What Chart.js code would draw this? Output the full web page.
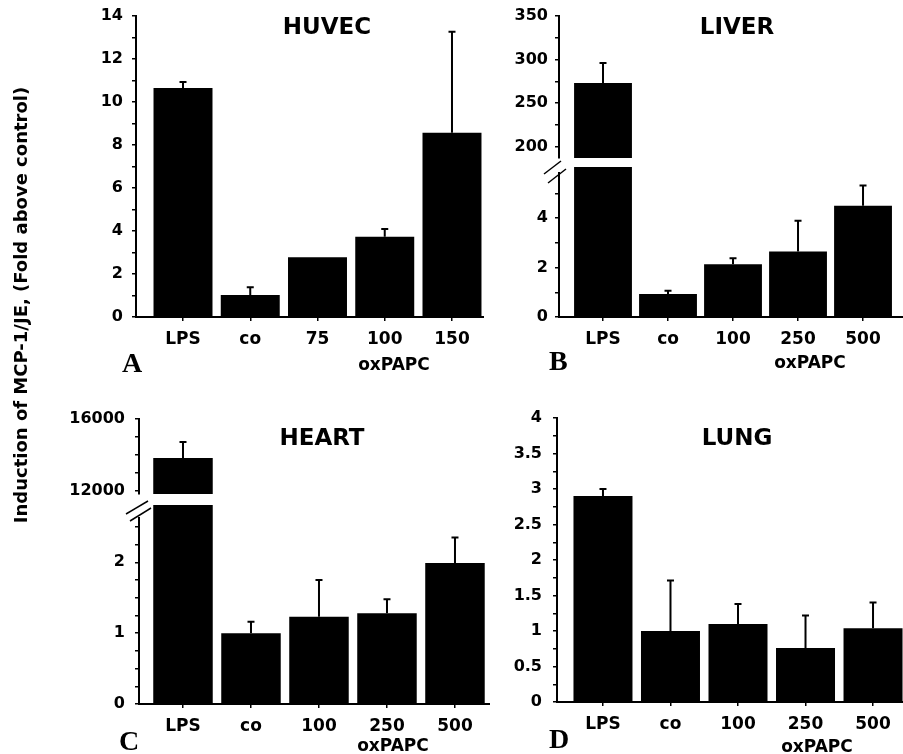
<!DOCTYPE html>
<html>
<head>
<meta charset="utf-8">
<title>Induction of MCP-1/JE</title>
<script src="https://cdn.jsdelivr.net/npm/chart.js@4.4.1/dist/chart.umd.min.js"></script>
<style>
    html, body { margin: 0; padding: 0; background: #fff; }
    #fig { position: relative; width: 903px; height: 754px; overflow: hidden; background: #fff; }
    #fig canvas { position: absolute; }
    #labels { position: absolute; left: 0; top: 0; pointer-events: none; }
    #labels text { font-family: 'DejaVu Sans', Verdana, sans-serif; font-weight: bold; fill: #000; }
    #labels text.panel { font-family: 'Liberation Serif', 'Times New Roman', serif; font-size: 28px; }
    #labels line { stroke: #000; stroke-width: 1.5; }
</style>
</head>
<body>
<div id="fig">
    <svg id="labels" width="903" height="754">
        <text x="327" y="33.5" font-size="23" text-anchor="middle">HUVEC</text>
        <text x="737" y="33.5" font-size="23" text-anchor="middle">LIVER</text>
        <text x="322" y="445" font-size="23" text-anchor="middle">HEART</text>
        <text x="737" y="445" font-size="23" text-anchor="middle">LUNG</text>

        <text class="panel" x="122" y="372">A</text>
        <text class="panel" x="549" y="370">B</text>
        <text class="panel" x="119" y="750">C</text>
        <text class="panel" x="549" y="748">D</text>

        <text x="394" y="370" font-size="17" text-anchor="middle">oxPAPC</text>
        <text x="810" y="368" font-size="17" text-anchor="middle">oxPAPC</text>
        <text x="393" y="750.5" font-size="17" text-anchor="middle">oxPAPC</text>
        <text x="817" y="751.5" font-size="17" text-anchor="middle">oxPAPC</text>

        <text transform="translate(26.5,305) rotate(-90)" font-size="18" text-anchor="middle">Induction of MCP-1/JE, (Fold above control)</text>

        <!-- axis breaks -->
        <line x1="544" y1="174" x2="561" y2="161"></line>
        <line x1="548" y1="183" x2="566" y2="169"></line>
        <line x1="126" y1="514" x2="148" y2="501"></line>
        <line x1="130" y1="521" x2="151" y2="508"></line>
    </svg>
</div>
<script>
// categories
var huvecCats = ['LPS', 'co', '75', '100', '150'];
var organCats = ['LPS', 'co', '100', '250', '500'];

// means and upper error (SD)
var huvecMean = [10.65, 1.02, 2.78, 3.73, 8.57];
var huvecSd = [0.28, 0.36, 0, 0.36, 4.7];
var liverMean = [273, 0.93, 2.14, 2.65, 4.5];
var liverSd = [23, 0.13, 0.24, 1.25, 0.82];
var heartMean = [13830, 1.0, 1.23, 1.28, 1.99];
var heartSd = [880, 0.16, 0.52, 0.2, 0.36];
var lungMean = [2.9, 1.0, 1.1, 0.76, 1.04];
var lungSd = [0.1, 0.71, 0.28, 0.46, 0.36];

// labelled y ticks
var huvecTicks = [0, 2, 4, 6, 8, 10, 12, 14];
var liverTicksLow = [0, 2, 4];
var liverTicksHigh = [200, 250, 300, 350];
var heartTicksLow = [0, 1, 2];
var heartTicksHigh = [12000, 16000];
var lungTicks = [0, 0.5, 1, 1.5, 2, 2.5, 3, 3.5, 4];

(function () {
    'use strict';

    var fig = document.getElementById('fig');
    var svg = document.getElementById('labels');
    var Y_AXIS_W = 72;
    var X_AXIS_H = 40;

    Chart.defaults.font.family = "'DejaVu Sans', Verdana, sans-serif";
    Chart.defaults.font.weight = 'bold';
    Chart.defaults.color = '#000';

    var errorBarPlugin = {
        id: 'errorBars',
        afterDatasetsDraw: function (chart) {
            var ctx = chart.ctx;
            chart.data.datasets.forEach(function (ds, di) {
                if (!ds.errors) {
                    return;
                }
                var meta = chart.getDatasetMeta(di);
                var yScale = chart.scales[meta.yAxisID];
                meta.data.forEach(function (bar, i) {
                    var v = ds.data[i].y;
                    var e = ds.errors[i];
                    if (v === null || !e) {
                        return;
                    }
                    var y0 = yScale.getPixelForValue(v);
                    var y1 = yScale.getPixelForValue(v + e);
                    ctx.save();
                    ctx.strokeStyle = '#000';
                    ctx.lineWidth = 2;
                    ctx.beginPath();
                    ctx.moveTo(bar.x, y0);
                    ctx.lineTo(bar.x, y1);
                    ctx.moveTo(bar.x - 3.5, y1);
                    ctx.lineTo(bar.x + 3.5, y1);
                    ctx.stroke();
                    ctx.restore();
                });
            });
        }
    };

    function makeChart(p) {
        var canvas = document.createElement('canvas');
        canvas.width = p.w;
        canvas.height = p.h;
        canvas.style.left = p.left + 'px';
        canvas.style.top = p.top + 'px';
        fig.insertBefore(canvas, svg);

        var points = p.values.map(function (v, i) {
            return { x: i, y: v };
        });

        var dataset = {
            data: points,
            errors: p.errors,
            backgroundColor: '#000',
            borderWidth: 0,
            barPercentage: p.barPct,
            categoryPercentage: 1
        };
        if (p.clipTop) {
            dataset.clip = { left: 0, top: p.clipTop, right: 0, bottom: 0 };
        }

        new Chart(canvas, {
            type: 'bar',
            data: { datasets: [dataset] },
            options: {
                responsive: false,
                animation: false,
                events: [],
                layout: {
                    padding: { top: p.padTop, right: 0, bottom: p.padBottom || 0, left: 0 }
                },
                plugins: {
                    legend: { display: false },
                    tooltip: { enabled: false }
                },
                scales: {
                    x: {
                        type: 'linear',
                        min: p.xMin,
                        max: p.xMax,
                        offset: false,
                        display: p.showX,
                        border: { display: true, color: '#000', width: 2 },
                        grid: {
                            display: true,
                            offset: false,
                            drawOnChartArea: false,
                            drawTicks: true,
                            tickLength: 4,
                            color: '#000',
                            lineWidth: 1.5
                        },
                        ticks: {
                            autoSkip: false,
                            maxRotation: 0,
                            padding: 8,
                            font: { size: 17, weight: 'bold' },
                            callback: function (v) {
                                return p.cats[v];
                            }
                        },
                        afterBuildTicks: function (scale) {
                            scale.ticks = p.cats.map(function (c, i) {
                                return { value: i };
                            });
                        },
                        afterFit: function (scale) {
                            scale.height = p.showX ? X_AXIS_H : 0;
                            scale.paddingLeft = 0;
                            scale.paddingRight = 0;
                        }
                    },
                    y: {
                        type: 'linear',
                        min: p.yMin,
                        max: p.yMax,
                        border: { display: true, color: '#000', width: 2 },
                        grid: {
                            display: true,
                            drawOnChartArea: false,
                            drawTicks: true,
                            tickLength: 4,
                            color: '#000',
                            lineWidth: 1.5
                        },
                        ticks: {
                            autoSkip: false,
                            padding: p.yPad,
                            font: { size: 16, weight: 'bold' },
                            callback: function (v) {
                                return p.yLabels.indexOf(v) >= 0 ? String(v) : '';
                            }
                        },
                        afterBuildTicks: function (scale) {
                            var ticks = [];
                            var k = Math.ceil(p.yMin / p.yStep - 1e-9);
                            for (; k * p.yStep <= p.yMax + 1e-9; k++) {
                                ticks.push({ value: +(k * p.yStep).toFixed(6) });
                            }
                            scale.ticks = ticks;
                        },
                        afterFit: function (scale) {
                            scale.width = Y_AXIS_W;
                            scale.paddingTop = 0;
                            scale.paddingBottom = 0;
                        }
                    }
                }
            },
            plugins: [errorBarPlugin]
        });
    }

    function onlyFirst(arr) {
        return arr.map(function (v, i) { return i === 0 ? v : null; });
    }
    function withoutFirst(arr) {
        return arr.map(function (v, i) { return i === 0 ? null : v; });
    }

    // A: HUVEC
    makeChart({
        left: 64, top: 2, w: 420, h: 355, padTop: 14, showX: true,
        xMin: -0.699, xMax: 4.476, barPct: 0.877,
        yMin: 0, yMax: 14, yStep: 1, yLabels: huvecTicks, yPad: 9,
        cats: huvecCats, values: huvecMean, errors: huvecSd
    });

    // B: LIVER (broken axis)
    makeChart({
        left: 487, top: 2, w: 416, h: 168, padTop: 14, padBottom: 12, showX: false,
        xMin: -0.677, xMax: 4.615, barPct: 0.89,
        yMin: 187, yMax: 350, yStep: 25, yLabels: liverTicksHigh, yPad: 7,
        cats: organCats, values: onlyFirst(liverMean), errors: onlyFirst(liverSd)
    });
    makeChart({
        left: 487, top: 167, w: 416, h: 190, padTop: 6, clipTop: 6, showX: true,
        xMin: -0.677, xMax: 4.615, barPct: 0.89,
        yMin: 0, yMax: 5.83, yStep: 1, yLabels: liverTicksLow, yPad: 7,
        cats: organCats, values: liverMean, errors: withoutFirst(liverSd)
    });

    // C: HEART (broken axis)
    makeChart({
        left: 67, top: 405, w: 423, h: 101, padTop: 14, padBottom: 12, showX: false,
        xMin: -0.647, xMax: 4.515, barPct: 0.875,
        yMin: 11815, yMax: 16000, yStep: 1000, yLabels: heartTicksHigh, yPad: 10,
        cats: organCats, values: onlyFirst(heartMean), errors: onlyFirst(heartSd)
    });
    makeChart({
        left: 67, top: 505, w: 423, h: 239, padTop: 13, clipTop: 13, showX: true,
        xMin: -0.647, xMax: 4.515, barPct: 0.875,
        yMin: 0, yMax: 2.625, yStep: 0.25, yLabels: heartTicksLow, yPad: 10,
        cats: organCats, values: heartMean, errors: withoutFirst(heartSd)
    });

    // D: LUNG
    makeChart({
        left: 485, top: 404, w: 418, h: 338, padTop: 14, showX: true,
        xMin: -0.681, xMax: 4.444, barPct: 0.874,
        yMin: 0, yMax: 4, yStep: 0.25, yLabels: lungTicks, yPad: 11,
        cats: organCats, values: lungMean, errors: lungSd
    });
})();
</script>
</body>
</html>
